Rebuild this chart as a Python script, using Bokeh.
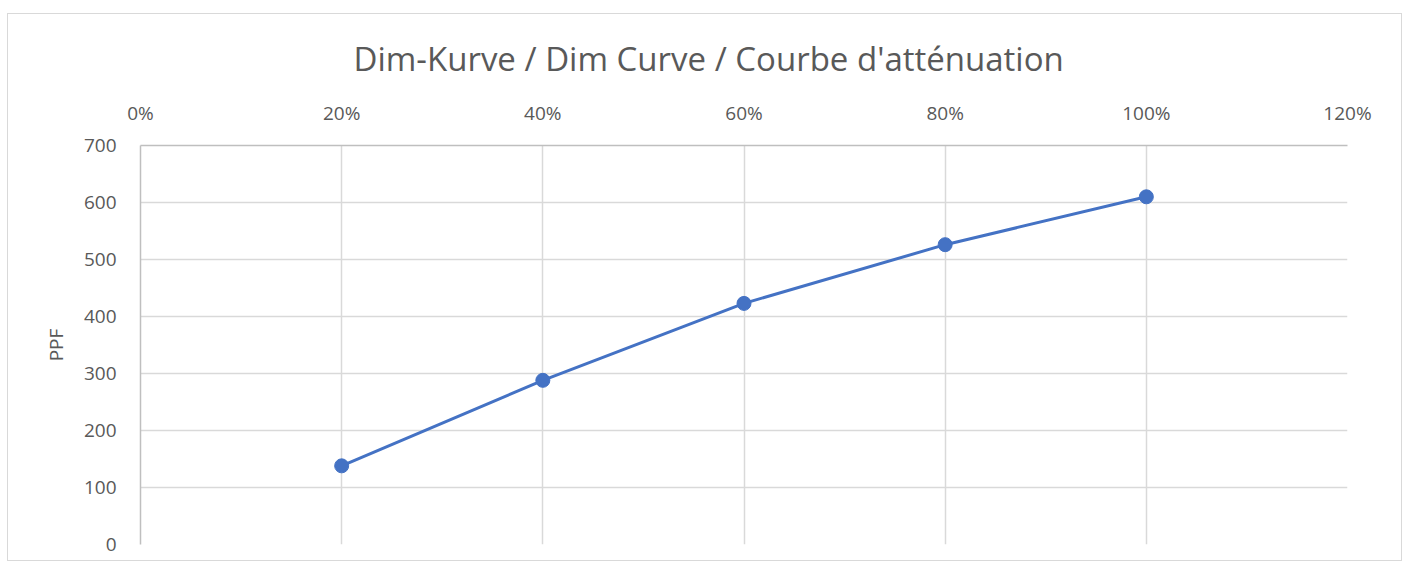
from bokeh.plotting import figure
from bokeh.models import FixedTicker, NumeralTickFormatter, Range1d
from bokeh.embed import file_html
from bokeh.resources import INLINE

# Data
dim_levels = [0.2, 0.4, 0.6, 0.8, 1.0]
ppf_values = [138, 288, 423, 526, 610]
x_ticks = [0, 0.2, 0.4, 0.6, 0.8, 1.0, 1.2]
y_ticks = [0, 100, 200, 300, 400, 500, 600, 700]
title_text = "Dim-Kurve / Dim Curve / Courbe d'atténuation"
y_label = "PPF"

FONT = "Open Sans"
TXT = "#595959"
GRID = "#d9d9d9"
LINE = "#4472C4"

p = figure(width=1395, height=548, output_backend="svg", toolbar_location=None,
           x_axis_location="above",
           x_range=Range1d(0, 1.2), y_range=Range1d(0, 700),
           min_border_left=132, min_border_right=56, min_border_top=131, min_border_bottom=18)
p.styles = {"margin-top": "13px", "margin-left": "7px", "border": "1px solid #d9d9d9"}

p.title.text = title_text
p.title.align = "left"
p.title.offset = 213
p.title.text_font = FONT
p.title.text_font_size = "33px"
p.title.text_font_style = "normal"
p.title.text_color = TXT
p.title.standoff = 32

p.outline_line_color = None

xa = p.xaxis[0]
xa.ticker = FixedTicker(ticks=x_ticks)
xa.formatter = NumeralTickFormatter(format="0%")
xa.major_label_text_font = FONT
xa.major_label_text_font_size = "19px"
xa.major_label_text_color = TXT
xa.major_tick_line_color = None
xa.minor_tick_line_color = None
xa.axis_line_color = "#bfbfbf"
xa.axis_line_width = 1.5
xa.major_label_standoff = 14

ya = p.yaxis[0]
ya.ticker = FixedTicker(ticks=y_ticks)
ya.major_label_text_font = FONT
ya.major_label_text_font_size = "19px"
ya.major_label_text_color = TXT
ya.major_tick_line_color = None
ya.minor_tick_line_color = None
ya.axis_line_color = "#bfbfbf"
ya.axis_line_width = 1.5
ya.major_label_standoff = 18
ya.axis_label = y_label
ya.axis_label_text_font = FONT
ya.axis_label_text_font_size = "19px"
ya.axis_label_text_font_style = "normal"
ya.axis_label_text_color = TXT
ya.axis_label_standoff = 12

p.xgrid.ticker = FixedTicker(ticks=x_ticks)
p.ygrid.ticker = FixedTicker(ticks=y_ticks)
p.xgrid.grid_line_color = GRID
p.ygrid.grid_line_color = GRID
p.xgrid.grid_line_width = 1.5
p.ygrid.grid_line_width = 1.5

p.line(dim_levels, ppf_values, line_color=LINE, line_width=3)
p.scatter(dim_levels, ppf_values, size=14, fill_color=LINE, line_color=LINE)

open("out.html", "w").write(file_html(p, INLINE))
